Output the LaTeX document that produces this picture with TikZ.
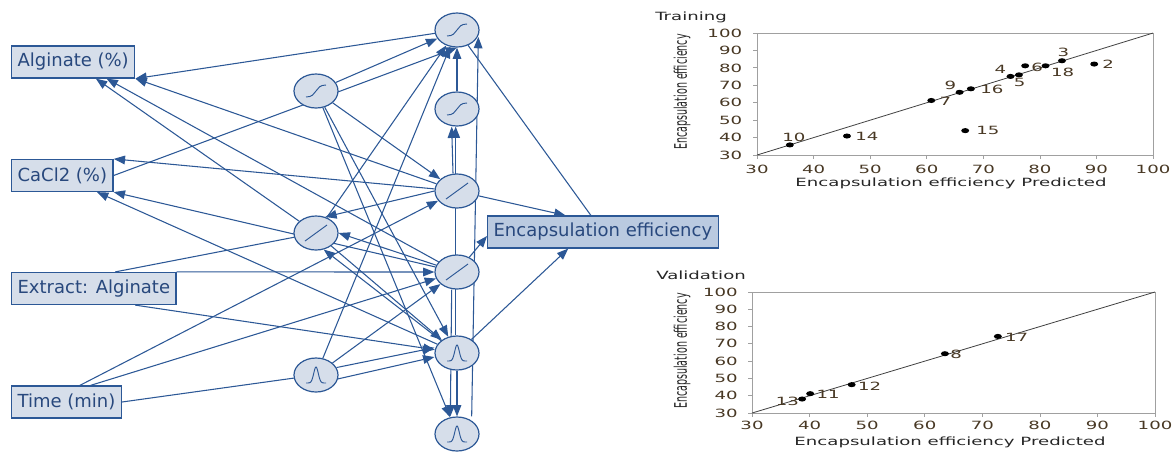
\documentclass[tikz,border=0pt]{standalone}
\usepackage{fontspec}
\setmainfont{DejaVu Sans}
\usepackage{graphicx}
\usetikzlibrary{arrows.meta,shapes.geometric,backgrounds}

\definecolor{netblue}{RGB}{44,88,150}
\definecolor{nodefill}{RGB}{214,222,234}
\definecolor{outfill}{RGB}{186,202,224}
\definecolor{labblue}{RGB}{40,72,125}
\definecolor{plotink}{RGB}{72,56,36}
\definecolor{framegray}{RGB}{160,160,160}

\newcommand{\stretchx}[1]{\scalebox{1.6}[1]{#1}}
\newcommand{\squeezey}[1]{\scalebox{0.55}[1]{#1}}

\tikzset{
  inbox/.style={draw=netblue, fill=nodefill, line width=0.9pt, text=labblue, font=\fontsize{13.5}{14}\selectfont, minimum height=24pt, inner xsep=4.5pt, anchor=west},
  outbox/.style={inbox, fill=outfill},
  hid/.style={ellipse, draw=netblue, fill=nodefill, line width=0.9pt, minimum width=33pt, minimum height=25.5pt, inner sep=0pt},
  sym/.style={draw=netblue, line width=0.7pt},
  wire/.style={draw=netblue, line width=0.8pt},
  arr/.style={wire, -{Triangle[length=8.5pt,width=6.5pt]}},
  ticklab/.style={text=plotink, font=\fontsize{8.5}{9}\selectfont, inner sep=0pt},
  axtitle/.style={text=black!85, font=\fontsize{8.5}{9}\selectfont, inner sep=0pt},
  datadot/.style={fill=black},
}

\begin{document}
\begin{tikzpicture}[x=0.75pt,y=0.75pt,yscale=-1,xscale=1]
\useasboundingbox (0,0) rectangle (1176,451);

%Input boxes
\node[inbox] (alg) at (11,62) {Alginate (\%)};
\node[inbox] (cacl) at (11,175.5) {CaCl2 (\%)};
\node[inbox] (ext) at (11,288.5) {Extract: Alginate};
\node[inbox] (time) at (11,402) {Time (min)};
%Output box
\node[outbox] (out) at (487,232) {Encapsulation efficiency};

%Hidden nodes, left column
\node[hid] (s1) at (316,91) {};
\node[hid] (l1) at (316,233) {};
\node[hid] (g1) at (316,375) {};
%Hidden nodes, right column
\node[hid] (s2a) at (457,30) {};
\node[hid] (s2b) at (457,109) {};
\node[hid] (l2a) at (457,191) {};
\node[hid] (l2b) at (457,272) {};
\node[hid] (g2a) at (457,353) {};
\node[hid] (g2b) at (457,434) {};

%Activation symbols
\foreach \n in {s1,s2a,s2b}
  \draw[sym, shift={(\n)}] (-10,6) .. controls (2,6) and (-2,-6) .. (10,-6);
\foreach \n in {l1,l2a,l2b}
  \draw[sym, shift={(\n)}] (-11,8) -- (11,-8);
\foreach \n in {g1,g2a,g2b}
  \draw[sym, shift={(\n)}] plot[domain=-10:10, samples=41, smooth] (\x, {8-16*exp(-((\x)*(\x)/10.24))});

%Connections
\begin{pgfonlayer}{background}
% towards the inputs
\draw[arr] (s2a) -- (alg.south east);
\draw[arr] (l2a) -- (alg.south east);
\draw[arr] (l2b) -- ([xshift=25pt]alg.south);
\draw[arr] (l1) -- ([xshift=17pt]alg.south);
\draw[arr] (l2a) -- (cacl.north east);
\draw[arr] (l2b) -- (cacl.south east);
\draw[arr] (g2a) -- ([xshift=26pt]cacl.south);
% from the inputs
\draw[arr] (cacl.east) -- (s2a.south);
\draw[wire] ([xshift=16pt]ext.north) -- (l1);
\draw[arr] (ext.north east) -- (l2b);
\draw[arr] ([xshift=31pt]ext.south) -- (g2a);
\draw[arr] ([xshift=10pt]time.north) -- (l2a);
\draw[arr] ([xshift=18pt]time.north) -- (l2b);
\draw[wire] (time.east) -- (g1);
% left column to right column
\draw[arr] (s1) -- (s2a);
\draw[arr] (s1) -- (l2a);
\draw[arr] (s1) -- (g2a);
\draw[arr] (s1) -- (g2b);
\draw[arr] (l1) -- (s2a);
\draw[arr] (l1) -- (g2a);
\draw[arr] (l2a.west) -- (l1.60);
\draw[arr] (l2b) -- (l1.east);
\draw[arr] (g2a) -- (l1.-65);
\draw[arr] (g1) -- (s2a);
\draw[arr] (g1) -- (l2b);
\draw[arr] (g1.20) -- ([yshift=-4pt]g2a.west);
\draw[arr] (g1.-10) -- ([yshift=3pt]g2a.west);
% inside the right column
\draw[arr] (s2b) -- (s2a);
\draw[arr] ([xshift=11pt]g2b.north) -- ([xshift=16pt,yshift=-8pt]s2a.south);
\draw[arr] ([xshift=-3pt]l2a.north) -- ([xshift=-4pt]s2b.south);
\draw[arr] ([xshift=-1pt]g2a.north) -- ([xshift=-1pt]s2b.south);
\draw[arr] (g2a) -- (g2b);
\draw[arr] ([xshift=-4pt]l2b.south) -- ([xshift=-5pt]g2b.north);
% to the output
\draw[wire] (s2a) -- ([xshift=-9pt]out.north);
\draw[arr] (l2a) -- ([xshift=-28pt]out.north);
\draw[arr] (l2b) -- ([yshift=3pt]out.west);
\draw[arr] (g2a) -- ([xshift=-26pt]out.south);
\end{pgfonlayer}

%Training plot
\node[axtitle, anchor=west] (trtitle) at (655,17) {\stretchx{Training}};
\node[axtitle] (trxlab) at (951,183) {\stretchx{Encapsulation efficiency Predicted}};
\node[axtitle, rotate=90] (trylab) at (682,92) {\squeezey{\fontsize{13}{13}\selectfont Encapsulation efficiency}};
\begin{scope}[shift={(587.3,207.3)}, x=4.243pt, y=-1.307pt]
  \draw[framegray, line width=0.6pt] (30,30) rectangle (100,100);
  \foreach \v in {30,40,...,100} {
    \draw[framegray, line width=0.6pt] (\v,30) -- ++(0,3pt);
    \draw[framegray, line width=0.6pt] (30,\v) -- ++(-3pt,0);
    \node[ticklab, anchor=east, xshift=-11pt] at (30,\v) {\stretchx{\v}};
    \node[ticklab, yshift=-10.5pt] at (\v,30) {\stretchx{\v}};
  }
  \draw[black!75, line width=0.6pt] (30,30) -- (100,100);
  \foreach \p/\a/\t/\dx/\dy in {35.8/35.8/10/3/5.3, 45.9/40.9/14/15/0, 60.8/61.3/7/10.5/-0.8,
      65.8/66/9/-6.8/5.3, 67.8/68/16/15.8/-0.5, 66.8/44/15/17/0, 74.8/75.1/4/-7.5/5.3,
      76.3/76/5/0.5/-6, 77.4/81.2/6/9/-1, 81/81.2/18/12.8/-5.3, 83.9/84.1/3/1/6, 89.6/82.2/2/10.5/-0.5} {
    \fill[datadot] (\p,\a) circle[x radius=3pt, y radius=1.9pt];
    \node[ticklab, xshift=\dx pt, yshift=\dy pt] at (\p,\a) {\stretchx{\t}};
  }
\end{scope}

%Validation plot
\node[axtitle, anchor=west] (vatitle) at (656,275) {\stretchx{Validation}};
\node[axtitle] (vaxlab) at (950,442) {\stretchx{Encapsulation efficiency Predicted}};
\node[axtitle, rotate=90] (vaylab) at (682,351) {\squeezey{\fontsize{13}{13}\selectfont Encapsulation efficiency}};
\begin{scope}[shift={(579.3,464.9)}, x=4.318pt, y=-1.297pt]
  \draw[framegray, line width=0.6pt] (30,30) rectangle (100,100);
  \foreach \v in {30,40,...,100} {
    \draw[framegray, line width=0.6pt] (\v,30) -- ++(0,3pt);
    \draw[framegray, line width=0.6pt] (30,\v) -- ++(-3pt,0);
    \node[ticklab, anchor=east, xshift=-10.5pt] at (30,\v) {\stretchx{\v}};
    \node[ticklab, yshift=-9pt] at (\v,30) {\stretchx{\v}};
  }
  \draw[black!75, line width=0.6pt] (30,30) -- (100,100);
  \foreach \p/\a/\t/\dx/\dy in {38.7/38.1/13/-11/-1.5, 40.1/41.2/11/13.5/-0.5, 47.3/46.4/12/13.5/-1.5,
      63.5/64.3/8/8.5/-0.5, 72.7/74.3/17/14/-0.5} {
    \fill[datadot] (\p,\a) circle[x radius=3pt, y radius=1.9pt];
    \node[ticklab, xshift=\dx pt, yshift=\dy pt] at (\p,\a) {\stretchx{\t}};
  }
\end{scope}

\end{tikzpicture}
\end{document}
